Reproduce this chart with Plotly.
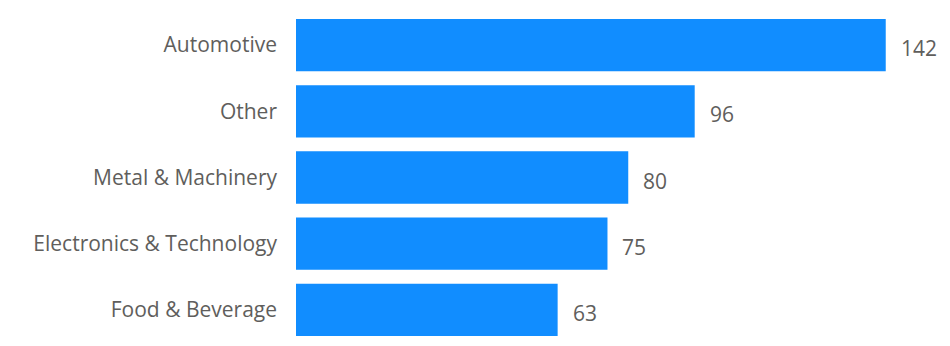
import plotly.graph_objects as go

categories = ["Automotive", "Other", "Metal & Machinery", "Electronics & Technology", "Food & Beverage"]
values = [142, 96, 80, 75, 63]
value_labels = ["142", "96", "80", "75", "63"]

BAR_COLOR = "#118DFF"
TEXT_COLOR = "#605E5C"
FONT = "Segoe UI, Open Sans, sans-serif"

fig = go.Figure(
    go.Bar(
        x=values,
        y=categories,
        orientation="h",
        marker=dict(color=BAR_COLOR, line=dict(width=0)),
        hoverinfo="skip",
    )
)

for v, c, t in zip(values, categories, value_labels):
    fig.add_annotation(
        x=v, y=c, text=t, showarrow=False,
        xanchor="left", yanchor="middle",
        xshift=13, yshift=-3,
        font=dict(family=FONT, size=21, color=TEXT_COLOR),
    )

fig.update_layout(
    width=950, height=346,
    margin=dict(l=296, r=30, t=12, b=3),
    paper_bgcolor="white", plot_bgcolor="white",
    bargap=0.21,
    showlegend=False,
    font=dict(family=FONT, size=21, color=TEXT_COLOR),
    xaxis=dict(range=[0, 150.25], visible=False, showgrid=False, zeroline=False),
    yaxis=dict(
        autorange="reversed", showgrid=False, zeroline=False, showline=False,
        ticks="", ticklabelstandoff=18,
        tickfont=dict(family=FONT, size=21, color=TEXT_COLOR),
    ),
)

fig.write_html("out.html")
